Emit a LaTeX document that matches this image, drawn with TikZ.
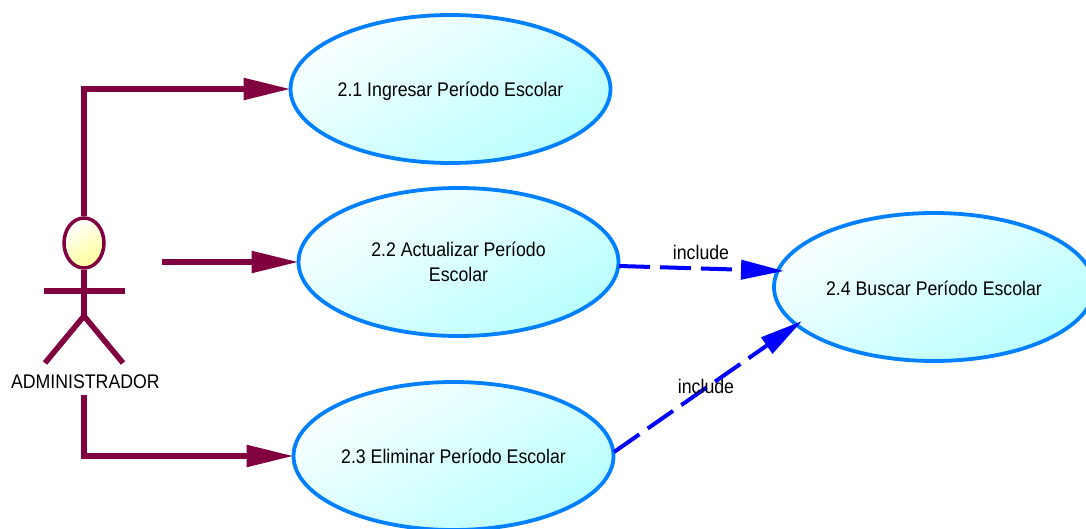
\documentclass[tikz,border=0pt]{standalone}
\usepackage{fontspec}
\setmainfont[FakeStretch=0.9]{Liberation Sans}
\usetikzlibrary{arrows.meta,shapes.geometric}
\definecolor{actorred}{RGB}{128,0,64}
\definecolor{caseblue}{RGB}{0,128,255}
\definecolor{caselight}{RGB}{250,255,255}
\definecolor{casedark}{RGB}{185,255,255}
\begin{document}
\begin{tikzpicture}[x=1pt,y=-1pt]
\tikzstyle{usecase}=[ellipse, inner sep=0pt,outer sep=0pt,
	line width=3.8pt,draw=caseblue,minimum width=320pt,minimum height=148pt,
	align=center,font=\fontsize{19.7}{25}\selectfont,text depth=0pt,
	top color=caselight,bottom color=casedark,shading angle=30,
]
\tikzstyle{assoc}=[draw=actorred,line width=5.5pt,-{Triangle[length=47pt,width=21pt]}]
\tikzstyle{limb}=[draw=actorred,line width=5.5pt]
\tikzstyle{incl}=[draw=blue,line width=4pt,dash pattern=on 31pt off 10pt,
	-{Triangle[length=43pt,width=19pt]}]
\tikzstyle{txt}=[inner sep=0pt,font=\fontsize{19.7}{25}\selectfont]
\useasboundingbox (0,0) rectangle (1086,529);
\node[usecase] (a) at (450.5,89) {2.1 Ingresar Período Escolar};
\node[usecase,text depth=1pt] (b) at (458.5,262) {2.2 Actualizar Período\\Escolar};
\node[usecase] (c) at (453.5,456) {2.3 Eliminar Período Escolar};
\node[usecase,text height=17.5pt] (d) at (934,287) {2.4 Buscar Período Escolar};
\node[ellipse,draw=actorred,line width=3.5pt,minimum width=40pt,minimum height=50pt,
	inner sep=0pt,top color=white,bottom color=yellow!40,shading angle=30] (head) at (84,243) {};
\coordinate (neck) at (84,316);
\coordinate (armL) at (44,291);
\coordinate (armR) at (124.5,291);
\coordinate (legL) at (45,363);
\coordinate (legR) at (123,363);
\coordinate (start) at (162,262);
\coordinate (dtop) at (784,271);
\coordinate (dlow) at (802,321);
\coordinate (bout) at (619,266);
\coordinate (cout) at (614,452);
\node[txt,minimum height=26pt,text width=146pt,align=center] (admin) at (84,382) {ADMINISTRADOR};
\path[limb] (head) -- (neck);
\path[limb] (armL) -- (armR);
\path[limb] (legL) -- (neck) -- (legR);
\path[assoc] (head.north) |- (a.west);
\path[assoc] (start) -- (b.west);
\path[assoc] (admin.south) |- (c.west);
\path[incl] (bout) -- (dtop);
\path[incl] (cout) -- (dlow);
\node[txt] (i1) at (701,252) {include};
\node[txt] (i2) at (706,386) {include};
\end{tikzpicture}
\end{document}
